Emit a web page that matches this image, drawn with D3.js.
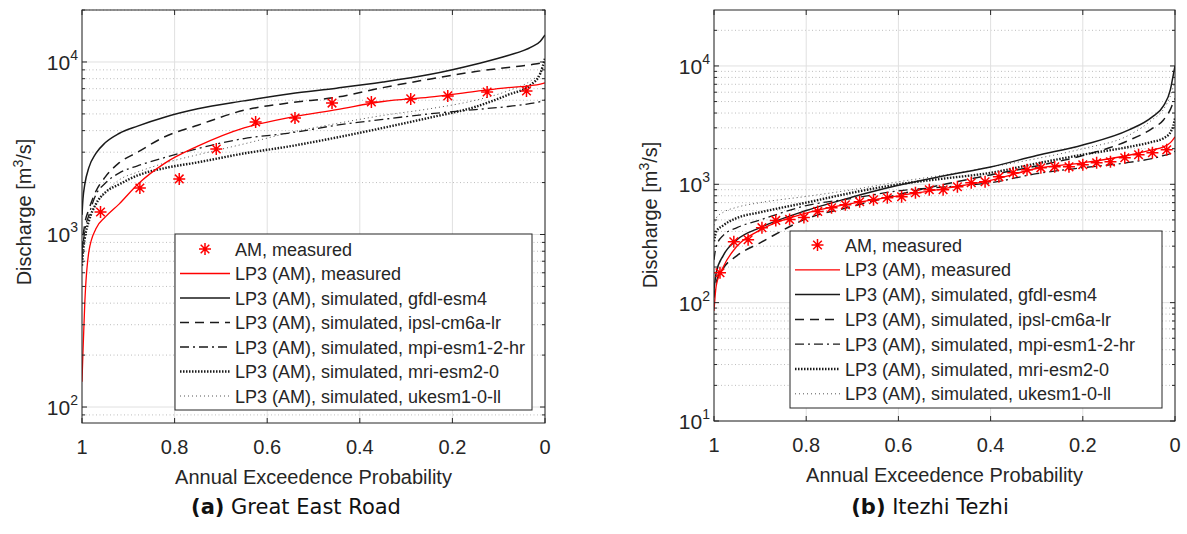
<!DOCTYPE html>
<html>
<head>
<meta charset="utf-8">
<script src="https://cdn.jsdelivr.net/npm/d3@7"></script>
<style>
  body { margin: 0; background: #fff; }
  svg { display: block; }
  text { font-family: "Liberation Sans", Arial, sans-serif; fill: #262626; }
</style>
</head>
<body>
<div id="chart"></div>
<script>
// ---- data: panel (a) Great East Road ----
const probA = [1, 0.998, 0.994, 0.985, 0.97, 0.95, 0.92, 0.88, 0.82, 0.75, 0.65, 0.55, 0.45, 0.35, 0.25, 0.15, 0.08, 0.03, 0.01, 0];
const lp3MeasA = [140, 206, 400, 800, 1080, 1260, 1500, 1950, 2600, 3250, 4150, 4780, 5300, 5900, 6250, 6750, 7100, 7300, 7450, 7560];
const gfdlA = [1300, 1600, 1950, 2450, 2950, 3400, 3850, 4250, 4800, 5350, 5950, 6550, 7050, 7650, 8450, 9700, 10900, 12200, 13200, 14350];
const ipslA = [810, 950, 1150, 1400, 1780, 2150, 2600, 3000, 3700, 4300, 5250, 5800, 6250, 7100, 7950, 8800, 9300, 9650, 9850, 10000];
const mpiA = [710, 850, 1050, 1300, 1700, 1980, 2270, 2500, 2800, 3150, 3600, 3880, 4300, 4650, 5000, 5300, 5520, 5750, 5900, 6020];
const mriA = [660, 780, 950, 1200, 1500, 1750, 1950, 2200, 2430, 2620, 2950, 3250, 3650, 4150, 4750, 5500, 6450, 7400, 8600, 10500];
const ukA = [760, 880, 1050, 1250, 1500, 1750, 2070, 2300, 2600, 2900, 3350, 3900, 4400, 4900, 5350, 6000, 6800, 7800, 8600, 9400];
const amProbA = [0.96, 0.875, 0.79, 0.71, 0.625, 0.54, 0.46, 0.375, 0.29, 0.21, 0.125, 0.04];
const amMeasA = [1350, 1860, 2100, 3130, 4490, 4730, 5780, 5870, 6110, 6360, 6700, 6790];

// ---- data: panel (b) Itezhi Tezhi ----
const probB = [1, 0.995, 0.98, 0.95, 0.9, 0.8, 0.7, 0.6, 0.5, 0.4, 0.3, 0.2, 0.1, 0.05, 0.025, 0.01, 0.004, 0];
const lp3MeasB = [85, 140, 200, 300, 410, 570, 690, 800, 920, 1080, 1360, 1520, 1760, 1950, 2070, 2250, 2400, 2520];
const gfdlB = [130, 180, 250, 340, 430, 600, 780, 980, 1180, 1400, 1750, 2150, 2880, 3700, 4600, 6300, 8300, 10000];
const ipslB = [110, 150, 195, 250, 320, 510, 650, 820, 1000, 1200, 1430, 1750, 2350, 2950, 3500, 4300, 4900, 5300];
const mpiB = [230, 300, 370, 430, 500, 660, 760, 880, 950, 1030, 1230, 1380, 1530, 1650, 1750, 1820, 1860, 1900];
const mriB = [330, 400, 450, 520, 580, 700, 850, 1000, 1120, 1250, 1500, 1780, 2070, 2280, 2450, 2750, 3100, 3600];
const ukB = [450, 520, 580, 640, 700, 790, 900, 1050, 1200, 1400, 1650, 2000, 2600, 3500, 4300, 5600, 6600, 7200];
const amProbB = [0.987, 0.957, 0.926, 0.896, 0.866, 0.836, 0.805, 0.775, 0.745, 0.715, 0.684, 0.654, 0.624, 0.593, 0.563, 0.533, 0.503,
                 0.472, 0.442, 0.412, 0.382, 0.351, 0.321, 0.291, 0.261, 0.230, 0.200, 0.170, 0.140, 0.109, 0.079, 0.049, 0.018];
const amMeasB = [179, 327, 340, 430, 495, 505, 525, 590, 634, 672, 712, 740, 770, 785, 848, 899, 899,
                 953, 1030, 1050, 1157, 1251, 1326, 1378, 1405, 1405, 1462, 1518, 1549, 1675, 1776, 1846, 1954];

// ---- labels ----
const xTicks = [1, 0.8, 0.6, 0.4, 0.2, 0];
const legendLabels = [
  "AM, measured",
  "LP3 (AM), measured",
  "LP3 (AM), simulated, gfdl-esm4",
  "LP3 (AM), simulated, ipsl-cm6a-lr",
  "LP3 (AM), simulated, mpi-esm1-2-hr",
  "LP3 (AM), simulated, mri-esm2-0",
  "LP3 (AM), simulated, ukesm1-0-ll"
];
const captionTags = ["(a)", "(b)"];
const captionNames = ["Great East Road", "Itezhi Tezhi"];
const xLabel = "Annual Exceedence Probability";

// line styles for the six curves (red measured + five models)
const styles = [
  { stroke: "#ff0000", width: 1.3, dash: null },
  { stroke: "#1a1a1a", width: 1.5, dash: null },
  { stroke: "#1a1a1a", width: 1.5, dash: "9,6" },
  { stroke: "#1a1a1a", width: 1.3, dash: "9,4,2,4" },
  { stroke: "#1a1a1a", width: 2.4, dash: "1.5,1.5" },
  { stroke: "#555555", width: 1, dash: "1,3" }
];

const panels = [
  {
    box: { l: 82, r: 545, t: 10, b: 423 }, yDomain: [80.8, 20010],
    prob: probA, series: [lp3MeasA, gfdlA, ipslA, mpiA, mriA, ukA],
    amProb: amProbA, am: amMeasA,
    legend: { x: 175, y: 234, w: 357, h: 176, row0: 249, step: 24.5, s0: 180, s1: 230 },
    ylab: { x: 31, y: 212 }, capX: 296
  },
  {
    box: { l: 714, r: 1175, t: 10, b: 421 }, yDomain: [10, 29700],
    prob: probB, series: [lp3MeasB, gfdlB, ipslB, mpiB, mriB, ukB],
    amProb: amProbB, am: amMeasB,
    legend: { x: 790, y: 231, w: 372, h: 177, row0: 245, step: 24.8, s0: 795, s1: 840 },
    ylab: { x: 657, y: 215 }, capX: 930
  }
];

const W = 1187, H = 534;
const svg = d3.select("#chart").append("svg").attr("width", W).attr("height", H);

const starPath = "M0,-6V6M-6,0H6M-4.3,-4.3L4.3,4.3M-4.3,4.3L4.3,-4.3";

panels.forEach((p, i) => {
  const b = p.box;
  const x = d3.scaleLinear().domain([1, 0]).range([b.l, b.r]);
  const y = d3.scaleLog().domain(p.yDomain).range([b.b, b.t]);
  const g = svg.append("g");

  const clipId = "clip" + i;
  svg.append("clipPath").attr("id", clipId)
    .append("rect").attr("x", b.l).attr("y", b.t).attr("width", b.r - b.l).attr("height", b.b - b.t);

  // grid
  const allY = y.ticks().filter(v => v >= p.yDomain[0] && v <= p.yDomain[1]);
  const isMajor = v => Math.abs(Math.log10(v) - Math.round(Math.log10(v))) < 1e-9;
  g.selectAll(".minor").data(allY.filter(v => !isMajor(v))).enter().append("line")
    .attr("x1", b.l).attr("x2", b.r).attr("y1", d => y(d)).attr("y2", d => y(d))
    .attr("stroke", "#bdbdbd").attr("stroke-width", 1).attr("stroke-dasharray", "1,2.5");
  g.selectAll(".major").data(allY.filter(isMajor)).enter().append("line")
    .attr("x1", b.l).attr("x2", b.r).attr("y1", d => y(d)).attr("y2", d => y(d))
    .attr("stroke", "#e0e0e0").attr("stroke-width", 1);
  g.selectAll(".vgrid").data(xTicks).enter().append("line")
    .attr("x1", d => x(d)).attr("x2", d => x(d)).attr("y1", b.t).attr("y2", b.b)
    .attr("stroke", "#e0e0e0").attr("stroke-width", 1);

  // curves
  const line = d3.line().x(d => x(d[0])).y(d => y(d[1])).curve(d3.curveMonotoneX);
  const curves = g.append("g").attr("clip-path", `url(#${clipId})`);
  // model curves first, red measured on top
  [5, 4, 3, 2, 1, 0].forEach(k => {
    const st = styles[k];
    curves.append("path")
      .attr("d", line(p.prob.map((pr, j) => [pr, p.series[k][j]])))
      .attr("fill", "none").attr("stroke", st.stroke).attr("stroke-width", st.width)
      .attr("stroke-dasharray", st.dash);
  });
  curves.selectAll(".am").data(p.amProb.map((pr, j) => [pr, p.am[j]])).enter().append("path")
    .attr("d", starPath).attr("transform", d => `translate(${x(d[0])},${y(d[1])})`)
    .attr("fill", "none").attr("stroke", "#ff0000").attr("stroke-width", 1.5);

  // axes box and ticks
  g.append("rect").attr("x", b.l).attr("y", b.t).attr("width", b.r - b.l).attr("height", b.b - b.t)
    .attr("fill", "none").attr("stroke", "#262626").attr("stroke-width", 1);
  xTicks.forEach(t => {
    g.append("line").attr("x1", x(t)).attr("x2", x(t)).attr("y1", b.b).attr("y2", b.b - 5).attr("stroke", "#262626");
    g.append("line").attr("x1", x(t)).attr("x2", x(t)).attr("y1", b.t).attr("y2", b.t + 5).attr("stroke", "#262626");
  });
  allY.forEach(v => {
    const len = isMajor(v) ? 5 : 3;
    g.append("line").attr("x1", b.l).attr("x2", b.l + len).attr("y1", y(v)).attr("y2", y(v)).attr("stroke", "#262626");
    g.append("line").attr("x1", b.r).attr("x2", b.r - len).attr("y1", y(v)).attr("y2", y(v)).attr("stroke", "#262626");
  });

  // tick labels
  g.selectAll(".xtl").data(xTicks).enter().append("text")
    .attr("x", d => x(d)).attr("y", b.b + 31).attr("text-anchor", "middle")
    .style("font-size", "20px").text(d => d3.format("")(d));
  allY.filter(isMajor).forEach(v => {
    const t = g.append("text").attr("x", b.l - 4).attr("y", y(v) + 8).attr("text-anchor", "end")
      .style("font-size", "21px");
    t.append("tspan").text("10");
    t.append("tspan").attr("dy", -10).style("font-size", "14px").text(Math.round(Math.log10(v)));
  });

  // axis labels
  g.append("text").attr("x", (b.l + b.r) / 2).attr("y", b.b + 61).attr("text-anchor", "middle")
    .style("font-size", "20px").text(xLabel);
  const yl = g.append("text").attr("transform", `translate(${p.ylab.x},${p.ylab.y}) rotate(-90)`)
    .attr("text-anchor", "middle").style("font-size", "20px");
  yl.append("tspan").text("Discharge [m");
  yl.append("tspan").attr("dy", -8).style("font-size", "14px").text("3");
  yl.append("tspan").attr("dy", 8).text("/s]");

  // legend
  const L = p.legend;
  const lg = g.append("g");
  lg.append("rect").attr("x", L.x).attr("y", L.y).attr("width", L.w).attr("height", L.h)
    .attr("fill", "#fff").attr("stroke", "#262626").attr("stroke-width", 1);
  legendLabels.forEach((lab, k) => {
    const ry = L.row0 + k * L.step;
    if (k === 0) {
      lg.append("path").attr("d", starPath).attr("transform", `translate(${(L.s0 + L.s1) / 2},${ry})`)
        .attr("fill", "none").attr("stroke", "#ff0000").attr("stroke-width", 1.5);
    } else {
      const st = styles[k - 1];
      lg.append("line").attr("x1", L.s0).attr("x2", L.s1).attr("y1", ry).attr("y2", ry)
        .attr("stroke", st.stroke).attr("stroke-width", st.width).attr("stroke-dasharray", st.dash);
    }
    lg.append("text").attr("x", L.s1 + 5).attr("y", ry + 6.5).style("font-size", "18px").text(lab);
  });

  // caption
  const cap = svg.append("text").attr("x", p.capX).attr("y", 514).attr("text-anchor", "middle")
    .style("font-family", "'DejaVu Sans', sans-serif").style("font-size", "21px").style("fill", "#111");
  cap.append("tspan").style("font-weight", "bold").text(captionTags[i]);
  cap.append("tspan").text(" " + captionNames[i]);
});
</script>
</body>
</html>
